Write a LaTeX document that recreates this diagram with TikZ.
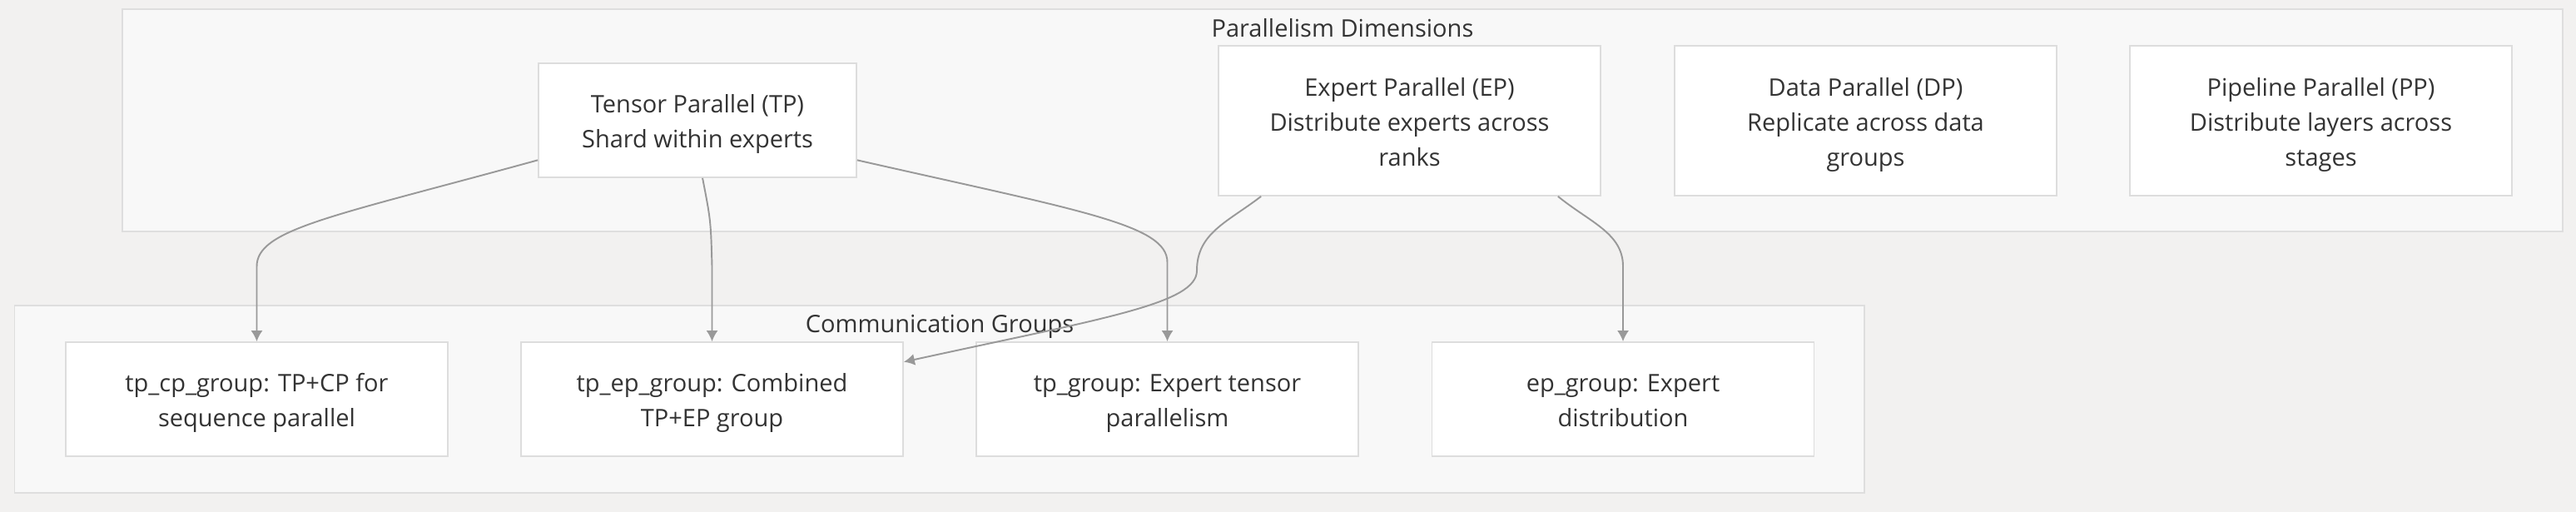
\documentclass[tikz,border=0pt]{standalone}
\usepackage{fontspec}
\setmainfont{Open Sans}
\usetikzlibrary{arrows.meta}
\definecolor{bgcol}{HTML}{F2F1F0}
\definecolor{groupfill}{HTML}{F8F8F8}
\definecolor{groupline}{HTML}{DEDEDE}
\definecolor{boxline}{HTML}{DDDDDD}
\definecolor{txt}{HTML}{333333}
\definecolor{flowcol}{HTML}{999999}
\newcommand{\boxfont}{\fontsize{16.5}{23.8}\selectfont}
\newcommand{\boxtop}{\rule{0pt}{18.5pt}}
\newcommand{\boxbot}{\rule[-4.5pt]{0pt}{4.5pt}}

\begin{document}
\begin{tikzpicture}[
  group/.style={draw=groupline, fill=groupfill, line width=1pt},
  box/.style={draw=boxline, fill=white, line width=1pt, minimum width=9.18cm,
    minimum height=2.74cm, align=center, text=txt, font=\boxfont, inner sep=0pt},
  tall/.style={box, minimum height=3.6cm},
  title/.style={text=txt, font=\boxfont, inner sep=0pt},
  flow/.style={draw=flowcol, line width=1.1pt, -{Latex[length=7.4pt,width=8pt]}}
]
\fill[bgcol] (0,0) rectangle (61.9,-12.3);
\useasboundingbox (0,0) rectangle (61.9,-12.3);
% the two groups
\draw[group] (2.94,-0.22) rectangle (61.58,-5.56);
\draw[group] (0.35,-7.34) rectangle (44.8,-11.84);
\node[title] (dimtitle) at (32.26,-0.68) {Parallelism Dimensions};
\node[title] (commtitle) at (22.58,-7.84) {Communication Groups};
%     upper row
\node[box, minimum width=7.64cm] (tp) at (16.76,-2.89) {\boxtop Tensor Parallel (TP)\\Shard within experts\boxbot};
\node[tall] (ep) at (33.87,-2.9) {\boxtop Expert Parallel (EP)\\Distribute experts across\\ranks\boxbot};
\node[tall] (dp) at (44.83,-2.9) {\boxtop Data Parallel (DP)\\Replicate across data\\groups\boxbot};
\node[tall] (pp) at (55.77,-2.9) {\boxtop Pipeline Parallel (PP)\\Distribute layers across\\stages\boxbot};
%     lower row
\node[box] (tpcp) at (6.17,-9.59) {\boxtop tp\_cp\_group: TP+CP for\\sequence parallel\boxbot};
\node[box] (tpep) at (17.11,-9.59) {\boxtop tp\_ep\_group: Combined\\TP+EP group\boxbot};
\node[box] (tpg) at (28.05,-9.59) {\boxtop tp\_group: Expert tensor\\parallelism\boxbot};
\node[box] (epg) at (39.0,-9.59) {\boxtop ep\_group: Expert\\distribution\boxbot};
% The arrows
\draw[flow] (tp.194) .. controls (8.0,-5.2) and (6.17,-5.5) .. (6.17,-6.4) -- (tpcp.north);
\draw[flow] (tp.-85) .. controls (17.08,-5.3) .. (17.11,-6.4) -- (tpep.north);
\draw[flow] (tp.-14) .. controls (26.0,-5.07) and (28.05,-5.4) .. (28.05,-6.3) -- (tpg.north);
\draw[flow] (ep.207) .. controls (29.49,-5.34) and (28.76,-5.6) .. (28.76,-6.5)
  .. controls (28.76,-7.3) and (26.5,-7.65) .. (tpep.11);
\draw[flow] (ep.-27) .. controls (38.2,-5.34) and (39.0,-5.6) .. (39.0,-6.4) -- (epg.north);
\end{tikzpicture}
\end{document}
